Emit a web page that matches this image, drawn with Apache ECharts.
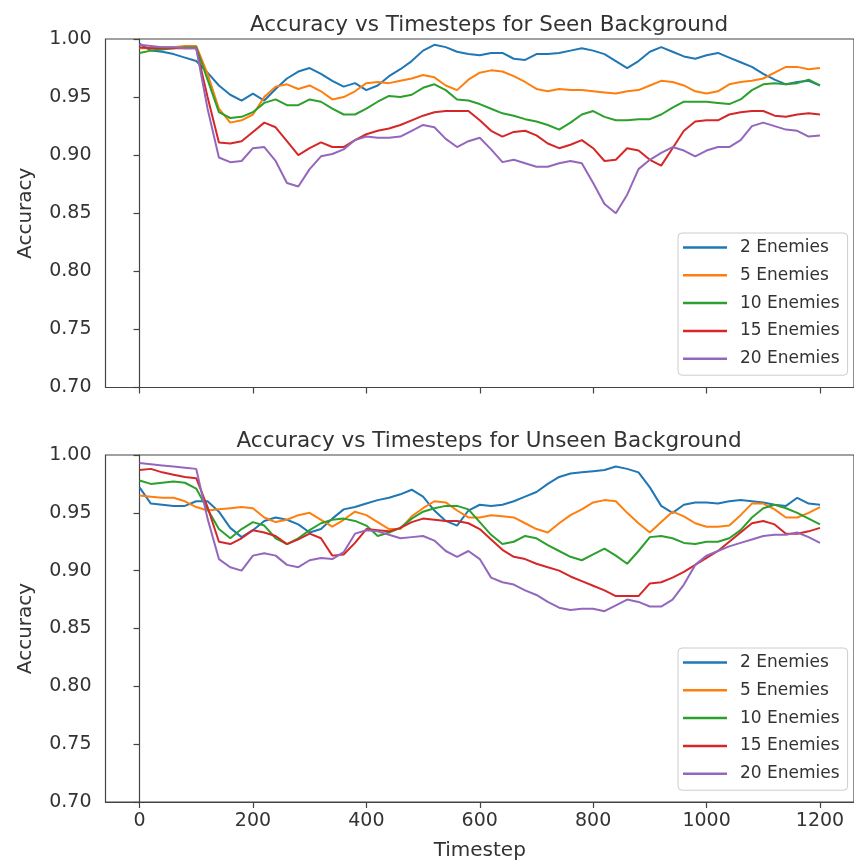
<!DOCTYPE html>
<html>
<head>
<meta charset="utf-8">
<script src="https://cdn.jsdelivr.net/npm/echarts@6/dist/echarts.min.js"></script>
<style>
  html, body { margin: 0; padding: 0; background: #ffffff; }
  #chart { width: 854px; height: 866px; }
</style>
</head>
<body>
<div id="chart"></div>
<script>
// ---------- data ----------
const timesteps = [0,20,40,60,80,100,120,140,160,180,200,220,240,260,280,300,320,340,360,380,400,420,440,460,480,500,520,540,560,580,600,620,640,660,680,700,720,740,760,780,800,820,840,860,880,900,920,940,960,980,1000,1020,1040,1060,1080,1100,1120,1140,1160,1180,1200];
const seriesNames = ['2 Enemies','5 Enemies','10 Enemies','15 Enemies','20 Enemies'];
const xTickValues = [0,200,400,600,800,1000,1200];

// Seen background
const seenE2  = [0.996,0.990,0.989,0.987,0.984,0.981,0.971,0.960,0.952,0.947, 0.953,0.947,0.957,0.966,0.972,0.975,0.970,0.964,0.959,0.962, 0.956,0.960,0.968,0.974,0.981,0.990,0.995,0.993,0.989,0.987, 0.986,0.988,0.988,0.983,0.982,0.987,0.987,0.988,0.990,0.992, 0.990,0.987,0.981,0.975,0.981,0.989,0.993,0.989,0.985,0.983, 0.986,0.988,0.984,0.980,0.976,0.970,0.965,0.961,0.963,0.964,0.960];
const seenE5  = [0.992,0.992,0.993,0.993,0.994,0.994,0.970,0.940,0.928,0.930, 0.935,0.950,0.959,0.961,0.957,0.960,0.955,0.948,0.950,0.955, 0.962,0.963,0.962,0.964,0.966,0.969,0.967,0.960,0.956,0.965, 0.971,0.973,0.972,0.968,0.963,0.957,0.955,0.957,0.956,0.956, 0.955,0.954,0.953,0.955,0.956,0.960,0.964,0.963,0.960,0.955, 0.953,0.955,0.961,0.963,0.964,0.966,0.971,0.976,0.976,0.974,0.975];
const seenE10 = [0.988,0.990,0.991,0.992,0.993,0.993,0.965,0.937,0.932,0.933, 0.937,0.945,0.948,0.943,0.943,0.948,0.946,0.940,0.935,0.935, 0.940,0.946,0.951,0.950,0.952,0.958,0.961,0.956,0.948,0.947, 0.944,0.940,0.936,0.934,0.931,0.929,0.926,0.922,0.928,0.935, 0.938,0.933,0.930,0.930,0.931,0.931,0.935,0.941,0.946,0.946, 0.946,0.945,0.944,0.948,0.956,0.961,0.962,0.961,0.962,0.965,0.960];
const seenE15 = [0.993,0.992,0.992,0.992,0.992,0.992,0.950,0.911,0.910,0.912, 0.920,0.928,0.924,0.912,0.900,0.906,0.911,0.907,0.907,0.913, 0.918,0.921,0.923,0.926,0.930,0.934,0.937,0.938,0.938,0.938, 0.930,0.921,0.916,0.920,0.921,0.917,0.910,0.906,0.909,0.913, 0.906,0.895,0.896,0.906,0.904,0.896,0.891,0.906,0.921,0.929, 0.930,0.930,0.935,0.937,0.938,0.938,0.934,0.933,0.935,0.936,0.935];
const seenE20 = [0.995,0.994,0.993,0.993,0.992,0.992,0.940,0.898,0.894,0.895, 0.906,0.907,0.895,0.876,0.873,0.888,0.899,0.901,0.905,0.913, 0.916,0.915,0.915,0.916,0.921,0.926,0.924,0.914,0.907,0.912, 0.915,0.905,0.894,0.896,0.893,0.890,0.890,0.893,0.895,0.893, 0.876,0.858,0.850,0.866,0.888,0.896,0.902,0.907,0.904,0.899, 0.904,0.907,0.907,0.913,0.925,0.928,0.925,0.922,0.921,0.916,0.917];

// Unseen background
const unseenE2  = [0.972,0.958,0.957,0.956,0.956,0.960,0.960,0.951,0.937,0.929, 0.935,0.943,0.946,0.944,0.940,0.933,0.936,0.945,0.953,0.955, 0.958,0.961,0.963,0.966,0.970,0.964,0.952,0.943,0.939,0.952, 0.957,0.956,0.957,0.960,0.964,0.968,0.975,0.981,0.984,0.985, 0.986,0.987,0.990,0.988,0.985,0.972,0.956,0.950,0.957,0.959, 0.959,0.958,0.960,0.961,0.960,0.959,0.957,0.956,0.963,0.958,0.957];
const unseenE5  = [0.965,0.964,0.963,0.963,0.960,0.955,0.952,0.953,0.954,0.955, 0.954,0.946,0.942,0.944,0.948,0.950,0.944,0.938,0.944,0.951, 0.948,0.942,0.936,0.936,0.947,0.954,0.960,0.959,0.952,0.946, 0.946,0.948,0.947,0.946,0.941,0.936,0.933,0.941,0.948,0.953, 0.959,0.961,0.960,0.950,0.941,0.933,0.942,0.951,0.947,0.941, 0.938,0.938,0.939,0.948,0.958,0.958,0.953,0.946,0.946,0.950,0.955];
const unseenE10 = [0.978,0.975,0.976,0.977,0.976,0.971,0.953,0.936,0.928,0.936, 0.942,0.939,0.928,0.923,0.928,0.935,0.941,0.944,0.945,0.943, 0.939,0.930,0.933,0.937,0.945,0.951,0.954,0.956,0.956,0.953, 0.942,0.931,0.923,0.925,0.930,0.928,0.922,0.917,0.912,0.909, 0.914,0.919,0.913,0.906,0.917,0.929,0.930,0.928,0.924,0.923, 0.925,0.925,0.928,0.935,0.946,0.954,0.957,0.954,0.950,0.945,0.940];
const unseenE15 = [0.987,0.988,0.985,0.983,0.981,0.980,0.955,0.925,0.923,0.928, 0.935,0.933,0.930,0.923,0.927,0.932,0.928,0.913,0.914,0.924, 0.936,0.935,0.934,0.937,0.942,0.945,0.944,0.943,0.943,0.941, 0.936,0.927,0.918,0.912,0.910,0.906,0.903,0.900,0.895,0.891, 0.887,0.883,0.878,0.878,0.878,0.889,0.890,0.894,0.899,0.905, 0.911,0.917,0.925,0.933,0.941,0.943,0.940,0.932,0.932,0.934,0.937];
const unseenE20 = [0.993,0.992,0.991,0.990,0.989,0.988,0.945,0.910,0.903,0.900, 0.913,0.915,0.913,0.905,0.903,0.909,0.911,0.910,0.916,0.932, 0.935,0.934,0.931,0.928,0.929,0.930,0.926,0.917,0.912,0.917, 0.910,0.894,0.890,0.888,0.883,0.879,0.873,0.868,0.866,0.867, 0.867,0.865,0.870,0.875,0.873,0.869,0.869,0.875,0.888,0.905, 0.913,0.917,0.921,0.924,0.927,0.930,0.931,0.931,0.933,0.929,0.924];

const seenSeries = [seenE2, seenE5, seenE10, seenE15, seenE20];
const unseenSeries = [unseenE2, unseenE5, unseenE10, unseenE15, unseenE20];

// ---------- styling ----------
const FONT = 'DejaVu Sans';
const TEXT = '#333333';
const AXIS = '#444444';
const colors = ['#1f77b4','#ff7f0e','#2ca02c','#d62728','#9467bd'];

function pairs(vals) { return timesteps.map((t, i) => [t, vals[i]]); }

function makeGrid(top, height) {
  return { left: 105.5, top: top, width: 757.5, height: height, show: true,
           borderColor: AXIS, borderWidth: 1.2, backgroundColor: 'transparent', containLabel: false };
}
function makeX(gridIndex, showLabels) {
  return {
    type: 'value', gridIndex: gridIndex, min: -60, max: 1260,
    splitLine: { show: false },
    axisLine: { show: true, onZero: false, lineStyle: { color: AXIS, width: 1.2 } },
    axisTick: { show: true, inside: false, length: 6, customValues: xTickValues, lineStyle: { color: AXIS, width: 1.2 } },
    axisLabel: { show: showLabels, customValues: xTickValues, fontSize: 19, color: TEXT, fontFamily: FONT, margin: 10,
                 formatter: v => String(v) },
    name: showLabels ? 'Timestep' : '', nameLocation: 'middle', nameGap: 39,
    nameTextStyle: { fontSize: 20, color: TEXT, fontFamily: FONT }
  };
}
function makeY(gridIndex) {
  return {
    type: 'value', gridIndex: gridIndex, min: 0.70, max: 1.00, interval: 0.05,
    splitLine: { show: false },
    axisLine: { show: true, lineStyle: { color: AXIS, width: 1.2 } },
    axisTick: { show: true, inside: false, length: 6, lineStyle: { color: AXIS, width: 1.2 } },
    axisLabel: { fontSize: 19, color: TEXT, fontFamily: FONT, margin: 14, formatter: v => v.toFixed(2) },
    name: 'Accuracy', nameLocation: 'middle', nameGap: 70,
    nameTextStyle: { fontSize: 20, color: TEXT, fontFamily: FONT }
  };
}
function makeLegend(top) {
  return {
    orient: 'vertical', left: 678, top: top,
    icon: 'rect', itemWidth: 44, itemHeight: 2.5, itemGap: 10.8,
    padding: [6, 8, 8, 5],
    backgroundColor: 'rgba(255,255,255,0.85)', borderColor: '#cccccc', borderWidth: 1, borderRadius: 4,
    textStyle: { fontSize: 17, lineHeight: 17, color: TEXT, fontFamily: FONT, padding: [0, 0, 0, 8] },
    data: seriesNames
  };
}

const series = [];
seenSeries.forEach((vals, i) => series.push({
  name: seriesNames[i], type: 'line', xAxisIndex: 0, yAxisIndex: 0,
  data: pairs(vals), showSymbol: false, symbol: 'none',
  lineStyle: { width: 2, color: colors[i] }, itemStyle: { color: colors[i] }
}));
unseenSeries.forEach((vals, i) => series.push({
  name: seriesNames[i], type: 'line', xAxisIndex: 1, yAxisIndex: 1,
  data: pairs(vals), showSymbol: false, symbol: 'none',
  lineStyle: { width: 2, color: colors[i] }, itemStyle: { color: colors[i] }
}));

const option = {
  animation: false,
  backgroundColor: '#ffffff',
  textStyle: { fontFamily: FONT },
  title: [
    { text: 'Accuracy vs Timesteps for Seen Background', left: 484, top: 9, textAlign: 'center',
      textStyle: { fontSize: 21.5, fontWeight: 'normal', color: TEXT, fontFamily: FONT } },
    { text: 'Accuracy vs Timesteps for Unseen Background', left: 484, top: 425, textAlign: 'center',
      textStyle: { fontSize: 21.5, fontWeight: 'normal', color: TEXT, fontFamily: FONT } }
  ],
  legend: [makeLegend(233), makeLegend(648)],
  grid: [makeGrid(39, 348.5), makeGrid(455, 347)],
  xAxis: [makeX(0, false), makeX(1, true)],
  yAxis: [makeY(0), makeY(1)],
  series: series
};

const chart = echarts.init(document.getElementById('chart'), null, { renderer: 'canvas' });
chart.setOption(option);
</script>
</body>
</html>
